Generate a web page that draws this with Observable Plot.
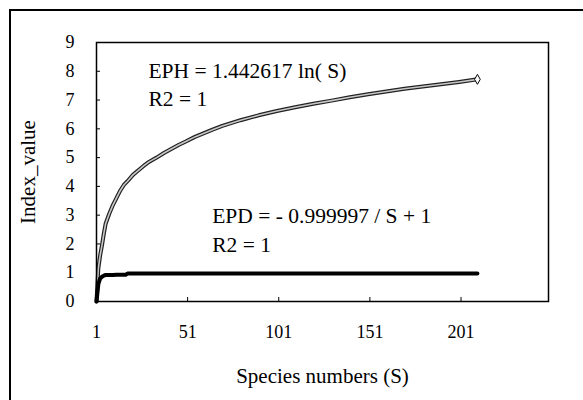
<!DOCTYPE html>
<html><head><meta charset="utf-8">
<script src="https://cdn.jsdelivr.net/npm/d3@7"></script>
<script src="https://cdn.jsdelivr.net/npm/@observablehq/plot@0.6"></script>
<style>
body{margin:0;background:#fff;}
#wrap{position:relative;width:583px;height:400px;overflow:hidden;background:#fff;}
#frame{position:absolute;left:9px;top:9px;width:640px;height:440px;border-left:2px solid #000;border-top:2px solid #000;pointer-events:none;}
#wrap svg{position:absolute;left:0;top:0;}
#wrap svg text, #wrap svg tspan{font-family:"Liberation Serif", "Times New Roman", serif !important;font-variant:normal !important;}
</style></head><body><div id="wrap"></div>
<script>
// EPH series (Species numbers S, index value)
const ephS = [1,2,3,4,5,6,8,10,12,14,16,18,21,24,27,30,34,38,42,46,50,55,60,65,70,80,90,100,110,120,130,140,150,160,170,180,190,200,210];
const ephV = [0,1.15,1.6,1.95,2.35,2.7,3.05,3.35,3.6,3.85,4.05,4.18,4.4,4.56,4.72,4.86,5.0,5.16,5.3,5.44,5.56,5.72,5.85,5.98,6.1,6.3,6.47,6.62,6.75,6.87,6.98,7.1,7.2,7.3,7.39,7.47,7.55,7.63,7.72];
// EPD series
const epdS = [1,2,3,4,5,6,8,10,12,14,16,17,18,30,60,100,150,210];
const epdV = [0,0.6,0.8,0.86,0.9,0.92,0.92,0.92,0.93,0.93,0.93,0.93,0.97,0.97,0.97,0.97,0.97,0.97];
// axis ticks
const xTicks = [1,51,101,151,201];
const yTicks = [0,1,2,3,4,5,6,7,8,9];
// annotation texts
const notes = [
  {text:"EPH = 1.442617 ln( S)", S:29.5, v:8.0},
  {text:"R2 = 1", S:29.5, v:7.03},
  {text:"EPD = - 0.999997 / S + 1", S:64.5, v:2.95},
  {text:"R2 = 1", S:64.5, v:1.95}
];
const xLabel = "Species numbers (S)";
const yLabel = "Index_value";

const eph = ephS.map((s,i)=>({S:s, v:ephV[i]}));
const epd = epdS.map((s,i)=>({S:s, v:epdV[i]}));
const font = "Liberation Serif";

const chart = Plot.plot({
  width: 583, height: 400,
  marginLeft: 96, marginTop: 42, marginRight: 35, marginBottom: 99,
  style: {fontFamily: font, background: "transparent", color: "#000"},
  x: {domain: [1, 249]},
  y: {domain: [0, 9]},
  marks: [
    Plot.axisX({ticks: xTicks, tickSize: 0, tickPadding: 24, fontSize: 18, label: null}),
    Plot.axisY({ticks: yTicks, tickSize: 0, tickPadding: 22, fontSize: 18, label: null}),
    Plot.ruleX(xTicks.slice(1), {y1: 0, y2: 0.14, stroke: "#000", strokeWidth: 1}),
    Plot.ruleY(yTicks.slice(1), {x1: 1, x2: 3.2, stroke: "#000", strokeWidth: 1}),
    Plot.line(eph, {x: "S", y: "v", stroke: "#222", strokeWidth: 4}),
    Plot.line(eph, {x: "S", y: "v", stroke: "#c8c8c8", strokeWidth: 1.6}),
    Plot.dot(eph.slice(-1), {x: "S", y: "v", symbol: "diamond", r: 3, stroke: "#000", fill: "#fff", strokeWidth: 1}),
    Plot.line(epd, {x: "S", y: "v", stroke: "#000", strokeWidth: 4}),
    Plot.frame({stroke: "#000", strokeWidth: 1.5}),
    Plot.text(notes, {x: "S", y: "v", text: "text", textAnchor: "start", fontSize: 21.5, fill: "#000"}),
    Plot.text([xLabel], {frameAnchor: "bottom", textAnchor: "middle", lineAnchor: "middle", dy: 75, fontSize: 21, fill: "#000"}),
    Plot.text([yLabel], {frameAnchor: "left", textAnchor: "middle", lineAnchor: "middle", dx: -68, rotate: -90, fontSize: 21, fill: "#000"})
  ]
});
const wrap = document.getElementById("wrap");
wrap.appendChild(chart);
const fr = document.createElement("div"); fr.id = "frame"; wrap.appendChild(fr);
</script></body></html>
